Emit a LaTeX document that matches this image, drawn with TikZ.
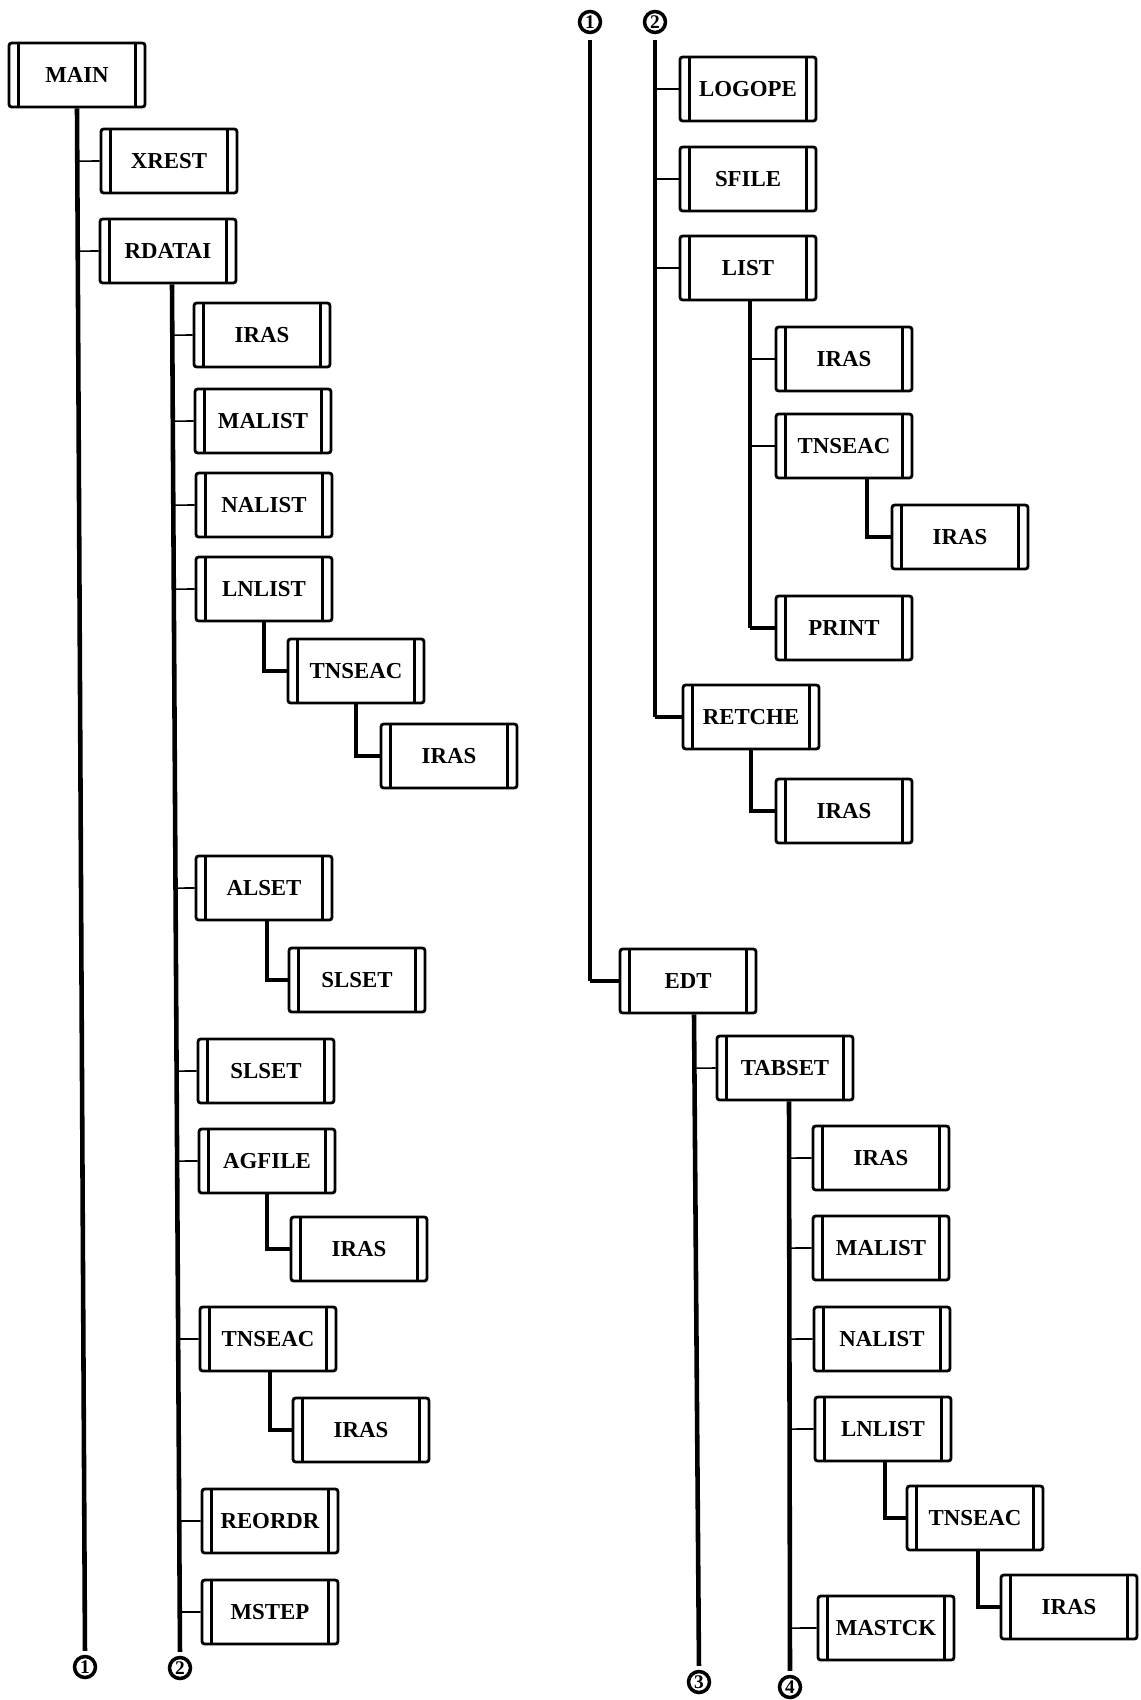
\documentclass[tikz,border=0pt]{standalone}
\usepackage{fontspec}
\setmainfont{Liberation Serif}
\usetikzlibrary{calc}
\begin{document}
\begin{tikzpicture}[x=0.02cm,y=-0.02cm,
  proc/.style={draw, line width=1.6pt, rounded corners=1.5pt,
    minimum width=2.72cm, minimum height=1.28cm, inner sep=0pt,
    font=\fontsize{13}{15}\selectfont\bfseries,
    path picture={
      \draw[line width=1.8pt]
        ([xshift=0.19cm]path picture bounding box.north west) --
        ([xshift=0.19cm]path picture bounding box.south west);
      \draw[line width=1.8pt]
        ([xshift=-0.19cm]path picture bounding box.north east) --
        ([xshift=-0.19cm]path picture bounding box.south east);
    }},
  num/.style={draw, circle, line width=2pt, minimum size=0.42cm,
    inner sep=0pt, font=\fontsize{11}{11}\selectfont\bfseries},
  trunk/.style={line width=2.6pt},
  elbow/.style={line width=2.1pt},
  stub/.style={line width=0.9pt},
]
\useasboundingbox (0,0) rectangle (1140,1700);

% ---------- left half ----------
\node[proc] (main)    at (77,75)    {MAIN};
\node[proc] (xrest)   at (169,161)  {XREST};
\node[proc] (rdata)   at (168,251)  {RDATAI};
\node[proc] (irasA)   at (262,335)  {IRAS};
\node[proc] (malistA) at (263,421)  {MALIST};
\node[proc] (nalistA) at (264,505)  {NALIST};
\node[proc] (lnlistA) at (264,589)  {LNLIST};
\node[proc] (tnseacA) at (356,671)  {TNSEAC};
\node[proc] (irasB)   at (449,756)  {IRAS};
\node[proc] (alset)   at (264,888)  {ALSET};
\node[proc] (slsetA)  at (357,980)  {SLSET};
\node[proc] (slsetB)  at (266,1071) {SLSET};
\node[proc] (agfile)  at (267,1161) {AGFILE};
\node[proc] (irasC)   at (359,1249) {IRAS};
\node[proc] (tnseacB) at (268,1339) {TNSEAC};
\node[proc] (irasD)   at (361,1430) {IRAS};
\node[proc] (reordr)  at (270,1521) {REORDR};
\node[proc] (mstep)   at (270,1612) {MSTEP};

\node[num] (nA) at (85,1667)  {1};
\node[num] (nB) at (180,1668) {2};

% ---------- right half ----------
\node[num] (tA) at (590,22) {1};
\node[num] (tB) at (655,22) {2};

\node[proc] (logope)  at (748,89)   {LOGOPE};
\node[proc] (sfile)   at (748,179)  {SFILE};
\node[proc] (list)    at (748,268)  {LIST};
\node[proc] (irasE)   at (844,359)  {IRAS};
\node[proc] (tnseacC) at (844,446)  {TNSEAC};
\node[proc] (irasF)   at (960,537)  {IRAS};
\node[proc] (print)   at (844,628)  {PRINT};
\node[proc] (retche)  at (751,717)  {RETCHE};
\node[proc] (irasG)   at (844,811)  {IRAS};
\node[proc] (edt)     at (688,981)  {EDT};
\node[proc] (tabset)  at (785,1068) {TABSET};
\node[proc] (irasH)   at (881,1158) {IRAS};
\node[proc] (malistB) at (881,1248) {MALIST};
\node[proc] (nalistB) at (882,1339) {NALIST};
\node[proc] (lnlistB) at (883,1429) {LNLIST};
\node[proc] (tnseacD) at (975,1518) {TNSEAC};
\node[proc] (irasI)   at (1069,1607) {IRAS};
\node[proc] (mastck)  at (886,1628) {MASTCK};

\node[num] (nC) at (699,1682) {3};
\node[num] (nD) at (790,1687) {4};

% ---------- trunks with their branches ----------
\draw[trunk, shorten >=0.08cm] (main.south) -- (nA.north);
\foreach \b in {xrest,rdata}
  \draw[stub] ($(main.south)!(\b.west)!(nA.north)$) -- (\b.west);

\coordinate (rt) at ($(rdata.south)+(4,0)$);
\draw[trunk, shorten >=0.08cm] (rt) -- (nB.north);
\foreach \b in {irasA,malistA,nalistA,lnlistA,alset,slsetB,agfile,tnseacB,reordr,mstep}
  \draw[stub] ($(rt)!(\b.west)!(nB.north)$) -- (\b.west);

% connector 1 on the right: down to EDT
\draw[trunk, shorten <=0.12cm] (tA.south) -- (tA.south |- edt.west);
\draw[elbow] (tA.south |- edt.west) -- (edt.west);

% connector 2 on the right: down to RETCHE
\draw[trunk, shorten <=0.12cm] (tB.south) -- (tB.south |- retche.west);
\draw[elbow] (tB.south |- retche.west) -- (retche.west);
\foreach \b in {logope,sfile,list}
  \draw[stub] (tB.south |- \b.west) -- (\b.west);

% LIST branch
\coordinate (lt) at ($(list.south)+(2,0)$);
\draw[trunk] (lt) -- (lt |- print.west);
\draw[elbow] (lt |- print.west) -- (print.west);
\foreach \b in {irasE,tnseacC}
  \draw[stub] (lt |- \b.west) -- (\b.west);

% EDT branch
\coordinate (et) at ($(edt.south)+(6,0)$);
\draw[trunk, shorten >=0.08cm] (et) -- (nC.north);
\draw[stub] ($(et)!(tabset.west)!(nC.north)$) -- (tabset.west);

% TABSET branch
\coordinate (tt) at ($(tabset.south)+(4,0)$);
\draw[trunk, shorten >=0.08cm] (tt) -- (nD.north);
\foreach \b in {irasH,malistB,nalistB,lnlistB,mastck}
  \draw[stub] ($(tt)!(\b.west)!(nD.north)$) -- (\b.west);

% ---------- single-call elbows ----------
\draw[elbow] (lnlistA.south) |- (tnseacA.west);
\draw[elbow] (tnseacA.south) |- (irasB.west);
\draw[elbow] ($(alset.south)+(3,0)$) |- (slsetA.west);
\draw[elbow] (agfile.south) |- (irasC.west);
\draw[elbow] ($(tnseacB.south)+(2,0)$) |- (irasD.west);
\draw[elbow] ($(tnseacC.south)+(23,0)$) |- (irasF.west);
\draw[elbow] (retche.south) |- (irasG.west);
\draw[elbow] ($(lnlistB.south)+(2,0)$) |- (tnseacD.west);
\draw[elbow] ($(tnseacD.south)+(3,0)$) |- (irasI.west);
\end{tikzpicture}
\end{document}
